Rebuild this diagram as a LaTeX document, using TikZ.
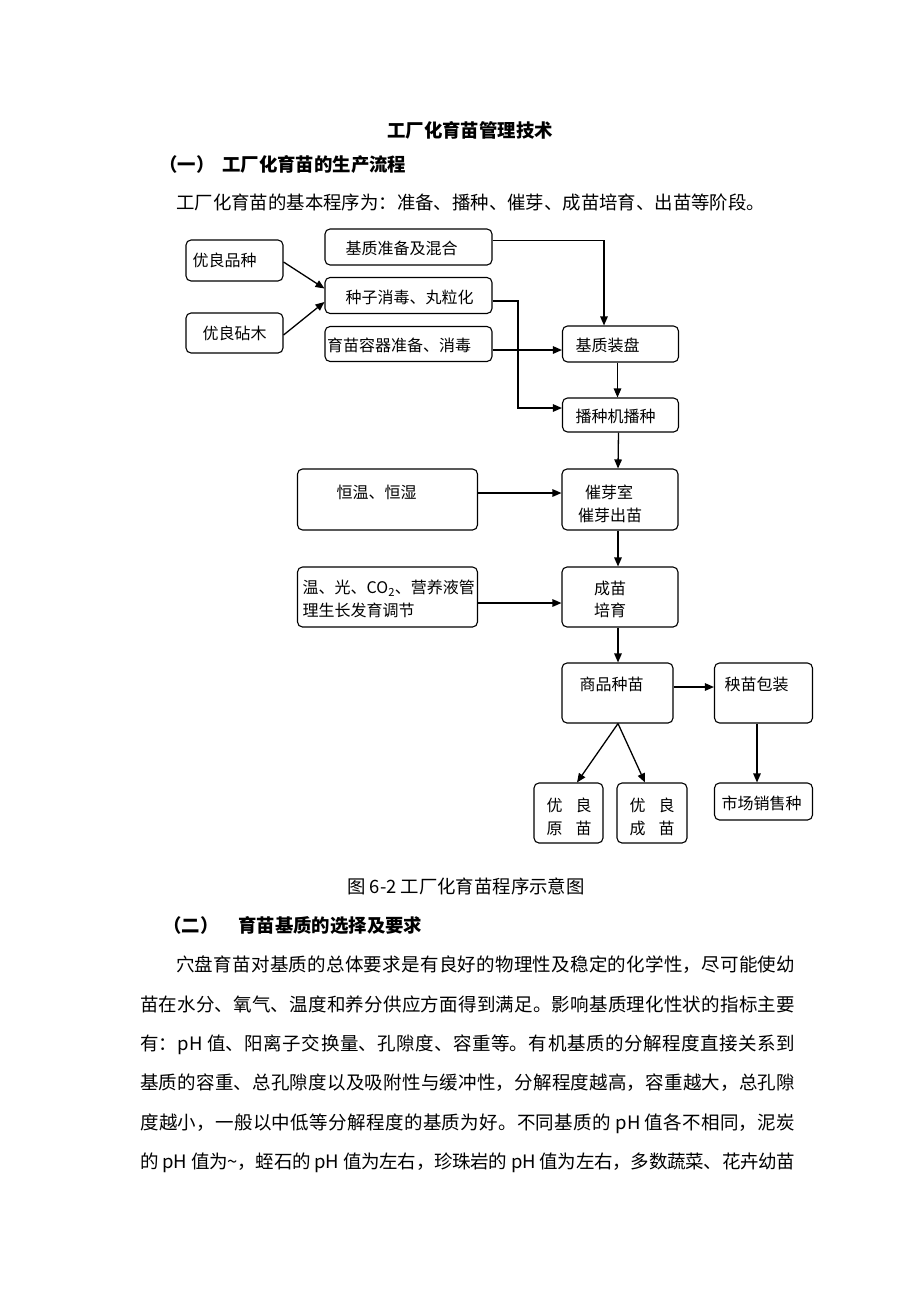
\documentclass[tikz,border=0pt]{standalone}
\usepackage{fontspec}
\newfontfamily\cjk{Noto Sans CJK SC}
\XeTeXlinebreaklocale "zh"
\XeTeXlinebreakskip=0pt plus 3pt minus 1pt
\usetikzlibrary{arrows.meta}
\newcommand{\jline}[1]{\parfillskip=0pt\relax #1\par}
\begin{document}
\begin{tikzpicture}[x=1pt,y=-1pt,
  every node/.style={font=\cjk},
  box/.style={draw, rounded corners=5pt, line width=1.1pt, inner sep=0pt},
  bt/.style={font=\cjk\fontsize{16}{23}\selectfont, inner sep=0pt, anchor=west, align=left},
  arr/.style={-{Triangle[length=9pt,width=7.5pt]}, line width=1.3pt},
  head/.style={font=\cjk\bfseries\fontsize{18.4}{20}\selectfont, inner sep=0pt},
  body/.style={font=\cjk\fontsize{18.4}{20}\selectfont, inner sep=0pt},
  para/.style={font=\cjk\fontsize{18.5}{20}\selectfont, inner sep=0pt, anchor=base west, align=justify}]
\fill[white] (0,0) rectangle (920,1302);
\useasboundingbox (0,0) rectangle (920,1302);

% headings and text
\node[head] (title) at (470,130) {工厂化育苗管理技术};
\node[head, anchor=west] (h1) at (159,164) {（一）\hspace{8pt}工厂化育苗的生产流程};
\node[body, anchor=west] (t1) at (176,203) {工厂化育苗的基本程序为：准备、播种、催芽、成苗培育、出苗等阶段。};

% boxes
\node[box, minimum width=97pt, minimum height=41pt] (pz) at (234.5,260.5) {};
\node[box, minimum width=97pt, minimum height=40pt] (zm) at (234.5,333) {};
\node[box, minimum width=167pt, minimum height=36pt] (jz) at (408.5,247) {};
\node[box, minimum width=167pt, minimum height=36pt] (zz) at (408.5,295.5) {};
\node[box, minimum width=167pt, minimum height=35pt] (rq) at (408.5,344) {};
\node[box, minimum width=116pt, minimum height=36pt] (zp) at (620.5,344) {};
\node[box, minimum width=116pt, minimum height=34pt] (bz) at (620.5,415) {};
\node[box, minimum width=180pt, minimum height=61pt] (hw) at (387.5,499.5) {};
\node[box, minimum width=116pt, minimum height=61pt] (cy) at (620,499.5) {};
\node[box, minimum width=180pt, minimum height=60pt] (wg) at (387.5,597) {};
\node[box, minimum width=116pt, minimum height=60pt] (cm) at (620,597) {};
\node[box, minimum width=111pt, minimum height=60pt] (sp) at (617.5,693) {};
\node[box, minimum width=98pt, minimum height=60pt] (yb) at (763.5,693) {};
\node[box, minimum width=69pt, minimum height=60pt] (yy) at (568.5,813) {};
\node[box, minimum width=70pt, minimum height=60pt] (yc) at (652,813) {};
\node[box, minimum width=98pt, minimum height=37pt] (sc) at (763.5,801.5) {};

% box texts
\node[bt] (pzt) at (192.5,260) {优良品种};
\node[bt] (zmt) at (202.5,333) {优良砧木};
\node[bt] (jzt) at (345.5,248) {基质准备及混合};
\node[bt] (zzt) at (345.5,297) {种子消毒、丸粒化};
\node[bt] (rqt) at (327,345) {育苗容器准备、消毒};
\node[bt] (zpt) at (575.5,345) {基质装盘};
\node[bt] (bzt) at (575.5,416) {播种机播种};
\node[bt] (hwt) at (336.5,492) {恒温、恒湿};
\node[bt] (cyt1) at (585,492) {催芽室};
\node[bt] (cyt2) at (578,515) {催芽出苗};
\node[bt] (wgt1) at (302.5,588) {温、光、CO\textsubscript{2}、营养液管};
\node[bt] (wgt2) at (302.5,610) {理生长发育调节};
\node[bt] (cmt1) at (594,588) {成苗};
\node[bt] (cmt2) at (594,610) {培育};
\node[bt] (spt) at (579.5,684) {商品种苗};
\node[bt] (ybt) at (724.5,684) {秧苗包装};
\node[bt] (yyt1) at (546.5,805) {优\hspace{13pt}良};
\node[bt] (yyt2) at (546.5,828) {原\hspace{13pt}苗};
\node[bt] (yct1) at (629.5,805) {优\hspace{13pt}良};
\node[bt] (yct2) at (629.5,828) {成\hspace{13pt}苗};
\node[bt] (sct) at (721.5,803) {市场销售种};

% connectors
\draw[arr] ([yshift=-1.5pt]pz.east) -- ([yshift=7pt]zz.west);
\draw[arr] ([yshift=-2pt]zm.east) -- ([yshift=-6.5pt]zz.west);
\draw[arr] ([yshift=6.5pt]jz.east) -| ([xshift=-16.5pt]zp.north);
\draw[arr] ([yshift=-5.5pt]zz.east) -- ++(25.5,0) |- ([yshift=7pt]bz.west);
\draw[arr] ([yshift=-6pt]rq.east) -- ([yshift=-6pt]zp.west);
\draw[arr] ([xshift=-3pt]zp.south) -- ([xshift=-3pt]bz.north);
\draw[arr] ([xshift=-2pt]bz.south) -- ([xshift=-2pt]cy.north);
\draw[arr] ([yshift=6.5pt]hw.east) -- ([yshift=6.5pt]cy.west);
\draw[arr] ([xshift=-2pt]cy.south) -- ([xshift=-2pt]cm.north);
\draw[arr] ([yshift=-6pt]wg.east) -- ([yshift=-6pt]cm.west);
\draw[arr] ([xshift=-2pt]cm.south) -- ([xshift=0.5pt]sp.north);
\draw[arr] ([yshift=6pt]sp.east) -- ([yshift=6pt]yb.west);
\draw[arr] ([xshift=0.5pt]sp.south) -- ([xshift=8.5pt]yy.north);
\draw[arr] ([xshift=0.5pt]sp.south) -- ([xshift=-7pt]yc.north);
\draw[arr] ([xshift=-6.5pt]yb.south) -- ([xshift=-6.5pt]sc.north);

% caption and following text
\node[body] (cap) at (466,886) {图 6-2 工厂化育苗程序示意图};
\node[head, anchor=west] (h2) at (163,925) {（二）\hspace{20pt}育苗基质的选择及要求};
\node[para, text width=619pt] (p1) at (176,971) {\jline{穴盘育苗对基质的总体要求是有良好的物理性及稳定的化学性，尽可能使幼}};
\node[para, text width=655pt] (p2) at (140,1011) {\jline{苗在水分、氧气、温度和养分供应方面得到满足。影响基质理化性状的指标主要}};
\node[para, text width=655pt] (p3) at (140,1050) {\jline{有：pH 值、阳离子交换量、孔隙度、容重等。有机基质的分解程度直接关系到}};
\node[para, text width=655pt] (p4) at (140,1089) {\jline{基质的容重、总孔隙度以及吸附性与缓冲性，分解程度越高，容重越大，总孔隙}};
\node[para, text width=655pt] (p5) at (140,1129) {\jline{度越小，一般以中低等分解程度的基质为好。不同基质的 pH 值各不相同，泥炭}};
\node[para, text width=655pt] (p6) at (140,1168) {\jline{的 pH 值为\textasciitilde，蛭石的 pH 值为左右，珍珠岩的 pH 值为左右，多数蔬菜、花卉幼苗}};
\end{tikzpicture}
\end{document}
